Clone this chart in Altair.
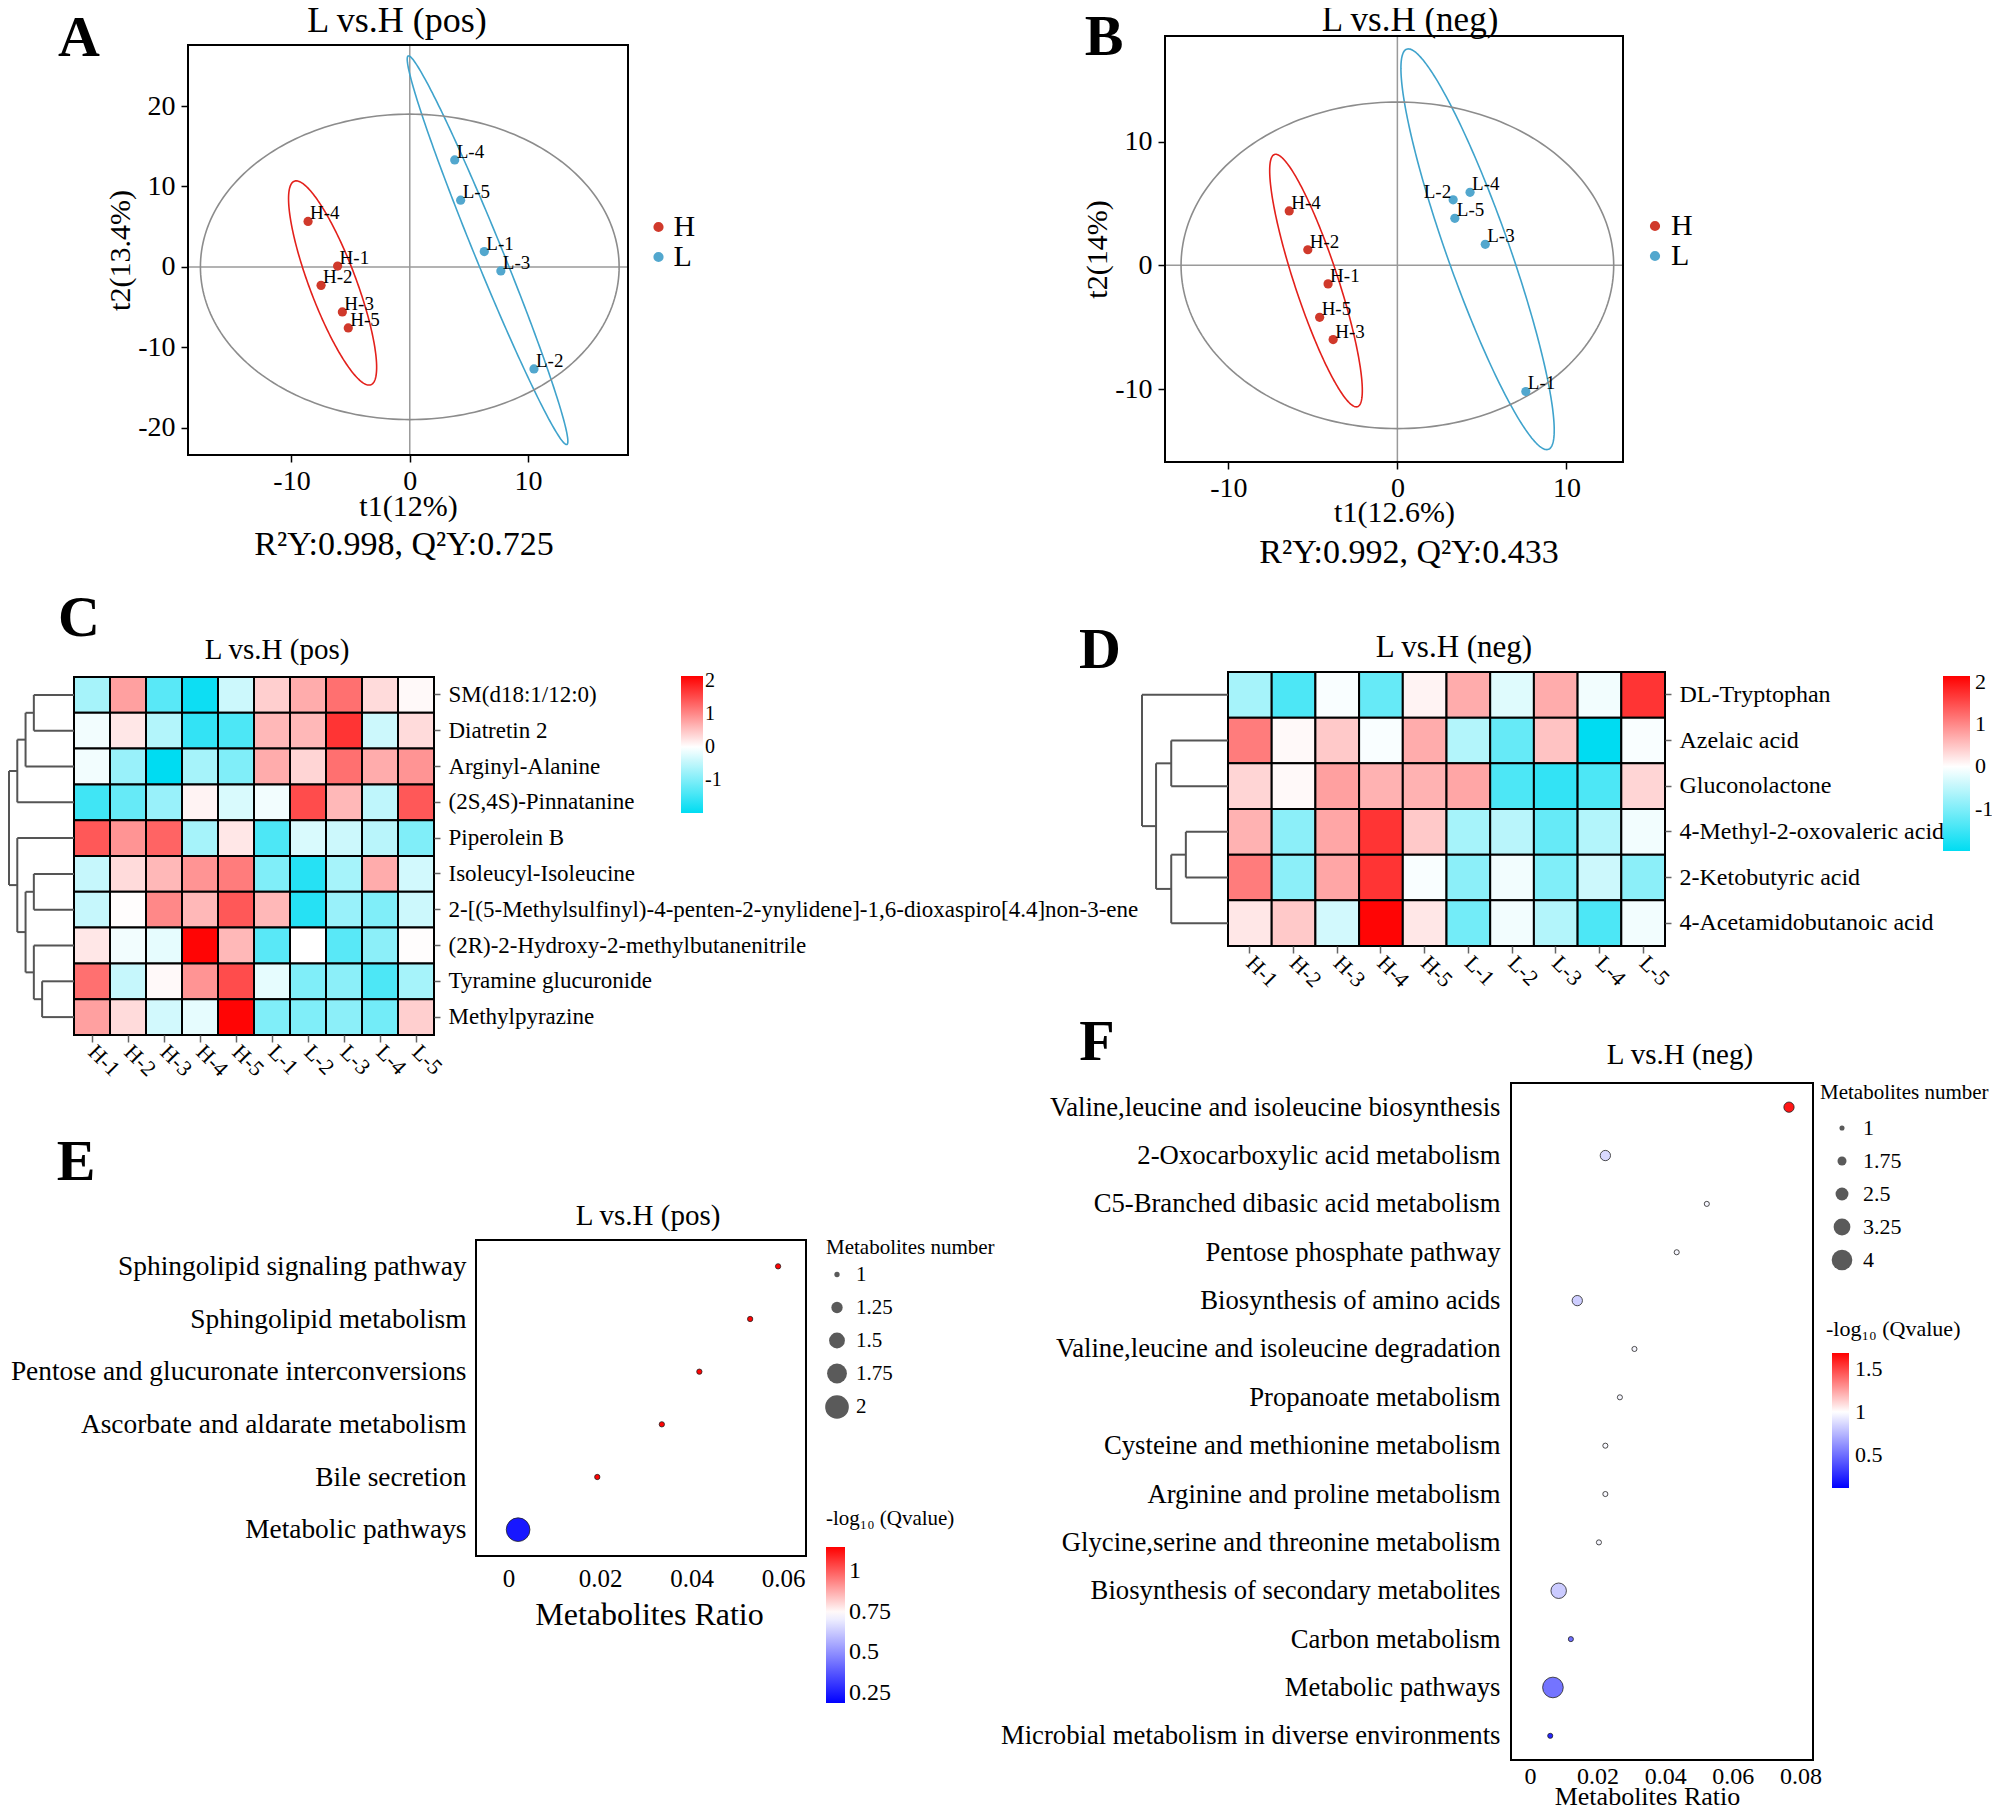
import altair as alt
import numpy as np
import pandas as pd

OFF = 8
W, H = 1984, 1800
FONT = "Liberation Serif"


def P(v):
    return v - OFF


# ----------------------------------------------------------------- data
samples = ["H-1", "H-2", "H-3", "H-4", "H-5", "L-1", "L-2", "L-3", "L-4", "L-5"]
groups = ["H", "H", "H", "H", "H", "L", "L", "L", "L", "L"]

# PLS-DA scores, panel A (pos)
A_t1 = [-6.1, -7.5, -5.7, -8.6, -5.2, 6.3, 10.5, 7.7, 3.8, 4.3]
A_t2 = [0.1, -2.3, -5.6, 5.65, -7.6, 1.9, -12.7, -0.5, 13.3, 8.3]
# panel B (neg)
B_t1 = [-4.1, -5.3, -3.8, -6.4, -4.6, 7.6, 3.3, 5.2, 4.3, 3.4]
B_t2 = [-1.5, 1.26, -6.0, 4.4, -4.2, -10.2, 5.3, 1.7, 5.9, 3.8]

# confidence ellipses: (top point, bottom point, half width at centre)
A_ell = {"H": ((-9.6, 10.7), (-3.45, -14.7), 2.1),
         "L": ((-0.1, 26.25), (13.25, -22.1), 1.25),
         "T": ((0.0, 19.0), (0.0, -19.0), 17.7)}
B_ell = {"H": ((-7.2, 8.98), (-2.43, -11.44), 1.35),
         "L": ((0.65, 17.5), (8.84, -14.9), 1.95),
         "T": ((0.0, 13.2), (0.0, -13.2), 12.8)}

# heatmap C (pos)
C_metabolites = ["SM(d18:1/12:0)", "Diatretin 2", "Arginyl-Alanine", "(2S,4S)-Pinnatanine",
                 "Piperolein B", "Isoleucyl-Isoleucine",
                 "2-[(5-Methylsulfinyl)-4-penten-2-ynylidene]-1,6-dioxaspiro[4.4]non-3-ene",
                 "(2R)-2-Hydroxy-2-methylbutanenitrile", "Tyramine glucuronide", "Methylpyrazine"]
C_values = [
    [-0.7, 0.8, -1.3, -1.9, -0.4, 0.4, 0.7, 1.2, 0.3, 0.05],
    [-0.1, 0.2, -0.6, -1.6, -1.4, 0.6, 0.6, 1.7, -0.4, 0.3],
    [-0.1, -0.8, -2.0, -0.7, -1.0, 0.7, 0.35, 1.2, 0.7, 0.9],
    [-1.5, -1.2, -0.8, 0.1, -0.3, -0.1, 1.5, 0.6, -0.5, 1.4],
    [1.4, 0.9, 1.3, -0.7, 0.2, -1.4, -0.3, -0.4, -0.55, -1.0],
    [-0.45, 0.3, 0.6, 0.9, 1.1, -1.0, -1.7, -0.7, 0.7, -0.35],
    [-0.45, 0.02, 1.0, 0.6, 1.4, 0.6, -1.7, -0.8, -1.0, -0.4],
    [0.2, -0.1, -0.2, 2.1, 0.6, -1.3, 0.0, -1.3, -0.9, 0.02],
    [1.2, -0.45, 0.05, 0.9, 1.5, -0.2, -1.0, -0.9, -1.4, -0.7],
    [0.8, 0.3, -0.35, -0.2, 2.1, -1.0, -1.0, -0.9, -1.1, 0.4],
]
# row dendrogram: (child a, child b, height); leaves 0..9, new nodes from 10
C_merges = [(8, 9, 77), (0, 1, 97), (5, 6, 97), (7, 10, 97), (11, 2, 117),
            (12, 13, 117), (14, 3, 137), (4, 15, 137), (16, 17, 157)]

# heatmap D (neg)
D_metabolites = ["DL-Tryptophan", "Azelaic acid", "Gluconolactone",
                 "4-Methyl-2-oxovaleric acid", "2-Ketobutyric acid", "4-Acetamidobutanoic acid"]
D_values = [
    [-0.7, -1.4, -0.05, -1.2, 0.1, 0.7, -0.25, 0.7, -0.1, 1.7],
    [1.1, 0.05, 0.45, -0.05, 0.7, -0.6, -1.2, 0.5, -2.0, -0.05],
    [0.35, 0.05, 0.8, 0.65, 0.65, 0.75, -1.4, -1.6, -1.4, 0.35],
    [0.65, -0.9, 0.75, 1.7, 0.45, -0.7, -0.55, -1.2, -0.6, -0.1],
    [1.1, -0.9, 0.75, 1.7, -0.05, -0.9, -0.1, -1.0, -0.4, -0.9],
    [0.2, 0.45, -0.35, 2.1, 0.2, -1.1, -0.1, -0.6, -1.4, -0.1],
]
D_merges = [(3, 4, 75), (1, 2, 101), (6, 5, 101), (7, 8, 128), (0, 9, 153)]

# KEGG enrichment E (pos)
E_pathways = ["Sphingolipid signaling pathway", "Sphingolipid metabolism",
              "Pentose and glucuronate interconversions", "Ascorbate and aldarate metabolism",
              "Bile secretion", "Metabolic pathways"]
E_ratio = [0.0589, 0.0528, 0.0417, 0.0335, 0.0194, 0.0021]
E_count = [1, 1, 1, 1, 1, 2]
E_q = [1.14, 1.14, 1.14, 1.14, 1.14, 0.24]

# KEGG enrichment F (neg)
F_pathways = ["Valine,leucine and isoleucine biosynthesis", "2-Oxocarboxylic acid metabolism",
              "C5-Branched dibasic acid metabolism", "Pentose phosphate pathway",
              "Biosynthesis of amino acids", "Valine,leucine and isoleucine degradation",
              "Propanoate metabolism", "Cysteine and methionine metabolism",
              "Arginine and proline metabolism", "Glycine,serine and threonine metabolism",
              "Biosynthesis of secondary metabolites", "Carbon metabolism",
              "Metabolic pathways", "Microbial metabolism in diverse environments"]
F_ratio = [0.0766, 0.0223, 0.0523, 0.0434, 0.0140, 0.0309, 0.0266, 0.0223, 0.0223, 0.0204,
           0.0085, 0.0121, 0.0068, 0.0060]
F_count = [2, 2, 1, 1, 2, 1, 1, 1, 1, 1, 3, 1, 4, 1]
F_q = [1.62, 0.87, 0.97, 0.97, 0.83, 0.97, 0.97, 0.98, 0.98, 0.97, 0.82, 0.5, 0.52, 0.25]

PT_RED, PT_BLUE = "#D0392B", "#52A7CE"
ELL_RED, ELL_BLUE, ELL_GRAY = "#E3201B", "#3FA3CC", "#8C8C8C"
CYAN = "#00DCF2"
PLAIN = "'' + datum.value"


# ----------------------------------------------------------------- helpers
def one_row():
    return pd.DataFrame({"k": [0]})


def text_chart(txt, x, y, size, align="center", weight="normal"):
    return alt.Chart(one_row()).mark_text(
        text=txt, fontSize=size, align=align, baseline="middle", font=FONT,
        fontWeight=weight, color="black").encode(x=alt.value(P(x)), y=alt.value(P(y)))


def frame_chart(x0, x1, y0, y1):
    return alt.Chart(one_row()).mark_rect(fillOpacity=0, stroke="black", strokeWidth=2).encode(
        x=alt.value(P(x0)), x2=alt.value(P(x1)), y=alt.value(P(y0)), y2=alt.value(P(y1)))


def ellipse_frame(params):
    t = np.linspace(0, 2 * np.pi, 241)
    rows = []
    for name, (top, bot, hw) in params.items():
        cx, cy = (top[0] + bot[0]) / 2, (top[1] + bot[1]) / 2
        ux, uy = top[0] - cx, top[1] - cy
        for i, tt in enumerate(t):
            rows.append({"ell": name, "i": i,
                         "x": cx + ux * np.cos(tt) + hw * np.sin(tt),
                         "y": cy + uy * np.cos(tt)})
    return pd.DataFrame(rows)


def score_panel(t1, t2, ell, xdom, xpx, ydom, ypx, xticks, yticks, xtitle, ytitle,
                leg_x, leg_y, leg_off, left_labels, ytitle_pad, xtitle_pad):
    df = pd.DataFrame({"sample": samples, "group": groups, "t1": t1, "t2": t2})
    df["side"] = ["L" if s in left_labels else "R" for s in samples]
    xs = alt.Scale(domain=xdom, range=[P(xpx[0]), P(xpx[1])], nice=False, zero=False)
    ys = alt.Scale(domain=ydom, range=[P(ypx[0]), P(ypx[1])], nice=False, zero=False)
    common = dict(grid=False, domain=False, ticks=True, tickSize=7, tickColor="black",
                  tickWidth=1.5, labelFontSize=28, labelColor="black", labelFont=FONT,
                  labelFlush=False, labelExpr=PLAIN, titleFont=FONT,
                  titleFontSize=30, titleFontWeight="normal", titleColor="black")
    xax = alt.Axis(orient="bottom", offset=P(ypx[0]) - H, values=xticks, labelPadding=5,
                   title=xtitle, titlePadding=xtitle_pad, **common)
    yax = alt.Axis(orient="left", offset=-P(xpx[0]), values=yticks, labelPadding=6,
                   title=ytitle, titlePadding=ytitle_pad, **common)

    def X(f):
        return alt.X(field=f, type="quantitative", scale=xs, axis=xax)

    def Y(f):
        return alt.Y(field=f, type="quantitative", scale=ys, axis=yax)

    cross = pd.DataFrame({"x": [0, xdom[0]], "x2": [0, xdom[1]],
                          "y": [ydom[0], 0], "y2": [ydom[1], 0]})
    l_cross = alt.Chart(cross).mark_rule(color="#9a9a9a", strokeWidth=1.5).encode(
        x=X("x"), x2="x2", y=Y("y"), y2="y2")
    l_ell = alt.Chart(ellipse_frame(ell)).mark_line(strokeWidth=1.6).encode(
        x=X("x"), y=Y("y"), detail="ell:N", order="i:Q",
        stroke=alt.Stroke("ell:N", scale=alt.Scale(domain=["H", "L", "T"],
                                                   range=[ELL_RED, ELL_BLUE, ELL_GRAY]),
                          legend=None))
    l_pts = alt.Chart(df).mark_circle(size=85, opacity=1).encode(
        x=X("t1"), y=Y("t2"),
        color=alt.Color("group:N", scale=alt.Scale(domain=["H", "L"], range=[PT_RED, PT_BLUE]),
                        legend=alt.Legend(orient="none", legendX=P(leg_x), legendY=P(leg_y),
                                          title=None, labelFontSize=30, labelFont=FONT,
                                          labelColor="black", symbolSize=104,
                                          symbolType="circle", labelOffset=leg_off,
                                          rowPadding=0, padding=0, symbolStrokeWidth=0,
                                          direction="vertical")))
    l_lab_r = alt.Chart(df).transform_filter(alt.datum.side == "R").mark_text(
        align="left", baseline="middle", dx=2, dy=-8, fontSize=19, font=FONT, color="black"
    ).encode(x=X("t1"), y=Y("t2"), text="sample:N")
    l_lab_l = alt.Chart(df).transform_filter(alt.datum.side == "L").mark_text(
        align="right", baseline="middle", dx=-2, dy=-8, fontSize=19, font=FONT, color="black"
    ).encode(x=X("t1"), y=Y("t2"), text="sample:N")
    return alt.layer(l_cross, l_ell, l_pts, l_lab_r, l_lab_l)


def heat_panel(mets, vals, x0, x1, y0, y1, cdom, leg, row_fs, col_fs):
    rows = [{"sample": s, "metabolite": m, "value": vals[i][j]}
            for i, m in enumerate(mets) for j, s in enumerate(samples)]
    df = pd.DataFrame(rows)
    xax = alt.Axis(orient="bottom", offset=P(y1) - H, labelAngle=45, labelAlign="left",
                   labelBaseline="middle", labelFontSize=col_fs, labelPadding=6, tickSize=7,
                   tickColor="#666666", tickWidth=1.5, domain=False, grid=False, title=None,
                   labelColor="black", labelFont=FONT, labelOverlap=False)
    yax = alt.Axis(orient="right", offset=P(x1) - W, labelFontSize=row_fs, labelPadding=8,
                   tickSize=6, tickColor="#666666", tickWidth=1.5, domain=False, grid=False,
                   title=None, labelColor="black", labelLimit=2000, labelFont=FONT,
                   labelOverlap=False)
    return alt.Chart(df).mark_rect(stroke="black", strokeWidth=2).encode(
        x=alt.X("sample:N", scale=alt.Scale(domain=samples, range=[P(x0), P(x1)],
                                            paddingInner=0, paddingOuter=0), axis=xax),
        y=alt.Y("metabolite:N", scale=alt.Scale(domain=mets, range=[P(y0), P(y1)],
                                                paddingInner=0, paddingOuter=0), axis=yax),
        color=alt.Color("value:Q", scale=alt.Scale(domain=cdom, range=[CYAN, "#FFFFFF", "#FF0000"],
                                                   interpolate="rgb"),
                        legend=alt.Legend(**leg)))


def dendro_chart(n, merges, y0, y1, xleaf, xroot):
    pos = {i: i + 0.5 for i in range(n)}
    hgt = {i: 0.0 for i in range(n)}
    segs = []
    for k, (a, b, h) in enumerate(merges):
        for c in (a, b):
            segs.append({"h": hgt[c], "h2": h, "p": pos[c], "p2": pos[c]})
        segs.append({"h": h, "h2": h, "p": pos[a], "p2": pos[b]})
        pos[n + k] = (pos[a] + pos[b]) / 2
        hgt[n + k] = h
    maxh = merges[-1][2]
    return alt.Chart(pd.DataFrame(segs)).mark_rule(color="#555555", strokeWidth=2).encode(
        x=alt.X("h:Q", scale=alt.Scale(domain=[0, maxh], range=[P(xleaf), P(xroot)],
                                       nice=False, zero=False), axis=None),
        x2="h2",
        y=alt.Y("p:Q", scale=alt.Scale(domain=[0, n], range=[P(y0), P(y1)],
                                       nice=False, zero=False), axis=None),
        y2="p2")


def bubble_panel(paths, ratio, count, q, xdom, xpx, ypx, xticks, xlab_fs, xlab_pad,
                 xtitle_fs, xtitle_pad, xtitle_x, ylab_fs, ylab_pad, size_dom, size_rng,
                 size_vals, size_leg, col_dom, col_vals, col_leg):
    df = pd.DataFrame({"path": paths, "ratio": ratio, "count": count, "q": q})
    xax = alt.Axis(orient="bottom", offset=P(ypx[1]) - H, values=xticks, format="~g",
                   labelFontSize=xlab_fs, labelPadding=xlab_pad, ticks=False, domain=False,
                   grid=False, labelFlush=False, labelColor="black", labelFont=FONT,
                   title="Metabolites Ratio", titleFont=FONT, titleFontSize=xtitle_fs,
                   titleFontWeight="normal", titleColor="black", titlePadding=xtitle_pad,
                   titleX=P(xtitle_x))
    yax = alt.Axis(orient="left", offset=-P(xpx[0]), labelFontSize=ylab_fs,
                   labelPadding=ylab_pad, ticks=False, domain=False, grid=False, title=None,
                   labelLimit=2000, labelColor="black", labelFont=FONT, labelOverlap=False)
    return alt.Chart(df).mark_circle(opacity=1, stroke="#222222", strokeWidth=0.8).encode(
        x=alt.X("ratio:Q", scale=alt.Scale(domain=xdom, range=[P(xpx[0]), P(xpx[1])],
                                           nice=False, zero=False), axis=xax),
        y=alt.Y("path:N", scale=alt.Scale(type="point", domain=paths,
                                          range=[P(ypx[0]), P(ypx[1])], padding=0.5),
                axis=yax),
        size=alt.Size("count:Q", scale=alt.Scale(type="pow", exponent=2, domain=size_dom,
                                                 range=size_rng),
                      legend=alt.Legend(values=size_vals, title=None, orient="none",
                                        direction="vertical", symbolType="circle",
                                        symbolFillColor="#5A5A5A", symbolStrokeColor="#5A5A5A",
                                        symbolStrokeWidth=0, symbolOpacity=1,
                                        labelFont=FONT, labelColor="black", padding=0,
                                        labelExpr=PLAIN, **size_leg)),
        color=alt.Color("q:Q", scale=alt.Scale(domain=col_dom,
                                               range=["#0000FF", "#FFFFFF", "#FF0000"],
                                               interpolate="rgb"),
                        legend=alt.Legend(values=col_vals, title=None, orient="none",
                                          direction="vertical", labelFont=FONT,
                                          labelColor="black", padding=0,
                                          gradientStrokeWidth=0, labelExpr=PLAIN, **col_leg)))


# ----------------------------------------------------------------- panels
panel_A = score_panel(A_t1, A_t2, A_ell, [-18.75, 18.45], [188, 628], [-23.4, 27.6], [455, 45],
                      [-10, 0, 10], [-20, -10, 0, 10, 20], "t1(12%)", "t2(13.4%)",
                      643.5, 212, 0, [], 2, -4)
panel_B = score_panel(B_t1, B_t2, B_ell, [-13.75, 13.35], [1165, 1623], [-15.9, 18.54], [462, 36],
                      [-10, 0, 10], [-10, 0, 10], "t1(12.6%)", "t2(14%)",
                      1640, 211, 1, ["L-2"], 2, -5)

heat_leg_common = dict(orient="none", title=None, direction="vertical", labelFont=FONT,
                       labelColor="black", padding=0, gradientStrokeWidth=0,
                       values=[2, 1, 0, -1], labelExpr=PLAIN)
heat_C = heat_panel(C_metabolites, C_values, 74, 434, 677, 1035, [-2.0, 0, 2.14],
                    dict(legendX=P(681), legendY=P(676), gradientLength=137,
                         gradientThickness=22, labelFontSize=20, labelOffset=2,
                         **heat_leg_common), 23, 22)
dend_C = dendro_chart(10, C_merges, 677, 1035, 74, 9)
heat_D = heat_panel(D_metabolites, D_values, 1228, 1665, 672, 946, [-2.0, 0, 2.14],
                    dict(legendX=P(1943), legendY=P(676), gradientLength=175,
                         gradientThickness=27, labelFontSize=22, labelOffset=5,
                         **heat_leg_common), 24, 22)
dend_D = dendro_chart(6, D_merges, 672, 946, 1228, 1142)

panel_E = bubble_panel(E_pathways, E_ratio, E_count, E_q, [-0.0071, 0.065], [476, 806],
                       [1240, 1556], [0, 0.02, 0.04, 0.06], 25, 10, 32, 8, 649, 27.4, 10,
                       [1, 2], [28, 560], [1, 1.25, 1.5, 1.75, 2],
                       dict(legendX=P(825), legendY=P(1264), labelFontSize=21, labelOffset=7,
                            rowPadding=11),
                       [0.19, 0.74, 1.147], [1, 0.75, 0.5, 0.25],
                       dict(legendX=P(826), legendY=P(1547), gradientLength=156,
                            gradientThickness=19, labelFontSize=24, labelOffset=4))
panel_F = bubble_panel(F_pathways, F_ratio, F_count, F_q, [-0.0056, 0.0837], [1511, 1813],
                       [1083, 1760], [0, 0.02, 0.04, 0.06, 0.08], 24, 4, 26, -5, 1647, 26.7, 11,
                       [1, 4], [26, 426], [1, 1.75, 2.5, 3.25, 4],
                       dict(legendX=P(1831), legendY=P(1117), labelFontSize=22, labelOffset=10,
                            rowPadding=11),
                       [0.12, 1.0, 1.68], [1.5, 1, 0.5],
                       dict(legendX=P(1832), legendY=P(1353), gradientLength=135,
                            gradientThickness=17, labelFontSize=22, labelOffset=6))

frames = [frame_chart(188, 628, 45, 455), frame_chart(1165, 1623, 36, 462),
          frame_chart(476, 806, 1240, 1556), frame_chart(1511, 1813, 1083, 1760)]

texts = [
    text_chart("A", 79, 39, 58, weight="bold"),
    text_chart("B", 1104, 38, 58, weight="bold"),
    text_chart("C", 79, 619, 58, weight="bold"),
    text_chart("D", 1100, 651, 58, weight="bold"),
    text_chart("E", 76, 1163, 58, weight="bold"),
    text_chart("F", 1097, 1043, 58, weight="bold"),
    text_chart("L vs.H (pos)", 397, 21, 36),
    text_chart("L vs.H (neg)", 1410, 20, 35),
    text_chart("L vs.H (pos)", 277, 650, 29),
    text_chart("L vs.H (neg)", 1454, 648, 31),
    text_chart("L vs.H (pos)", 648, 1216, 29),
    text_chart("L vs.H (neg)", 1680, 1055, 29),
    text_chart("R\u00b2Y:0.998, Q\u00b2Y:0.725", 404, 545, 34),
    text_chart("R\u00b2Y:0.992, Q\u00b2Y:0.433", 1409, 553, 34),
    text_chart("Metabolites number", 826, 1248, 21, align="left"),
    text_chart("-log\u2081\u2080 (Qvalue)", 826, 1519, 21, align="left"),
    text_chart("Metabolites number", 1820, 1093, 21, align="left"),
    text_chart("-log\u2081\u2080 (Qvalue)", 1826, 1329, 22, align="left"),
]

chart = alt.layer(
    panel_A, panel_B, heat_C, dend_C, heat_D, dend_D, panel_E, panel_F, *frames, *texts
).resolve_scale(
    x="independent", y="independent", color="independent", size="independent",
    stroke="independent"
).resolve_axis(
    x="independent", y="independent"
).resolve_legend(
    color="independent", size="independent", stroke="independent"
).properties(
    width=W, height=H, autosize=alt.AutoSizeParams(type="none"), padding=0
).configure(
    font=FONT
).configure_view(
    stroke=None
)

chart.save("out.html", embed_options={"renderer": "svg", "actions": False})
